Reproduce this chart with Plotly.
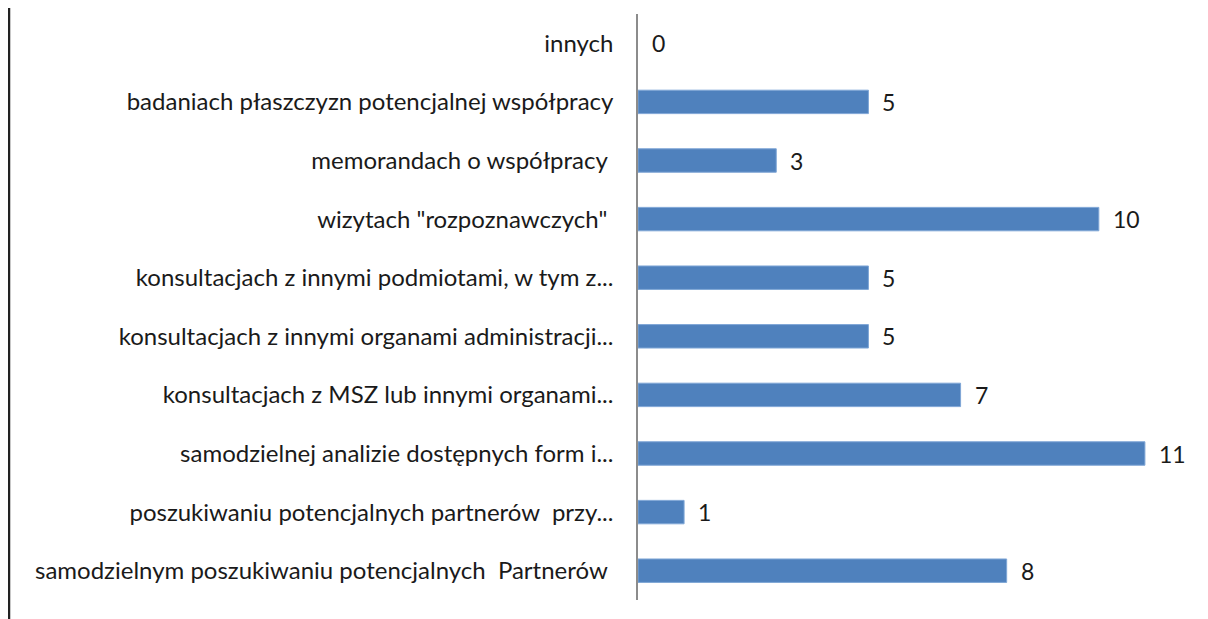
import plotly.graph_objects as go

# categories listed bottom to top, as in the chart
categories = [
    "samodzielnym poszukiwaniu potencjalnych\u00a0 Partnerów\u00a0",
    "poszukiwaniu potencjalnych partnerów\u00a0 przy...",
    "samodzielnej analizie dostępnych form i...",
    "konsultacjach z MSZ lub innymi organami...",
    "konsultacjach z innymi organami administracji...",
    "konsultacjach z innymi podmiotami, w tym z...",
    "wizytach \"rozpoznawczych\"\u00a0",
    "memorandach o współpracy\u00a0",
    "badaniach płaszczyzn potencjalnej współpracy",
    "innych",
]
values = [8, 1, 11, 7, 5, 5, 10, 3, 5, 0]

bar_color = "#4f81bd"
text_color = "#1a1a1a"
font_family = "Lato, 'Open Sans', sans-serif"

fig = go.Figure()
fig.add_trace(
    go.Bar(
        x=values,
        y=categories,
        orientation="h",
        width=0.4,
        marker=dict(
            color=bar_color,
            # no outline on empty bars, so the zero row stays blank
            line=dict(color="#7fa6d6", width=[1 if v else 0 for v in values]),
        ),
        hoverinfo="x+y",
    )
)

# value labels to the right of each bar
for cat, val in zip(categories, values):
    fig.add_annotation(
        x=val,
        y=cat,
        text=str(val),
        showarrow=False,
        xanchor="left",
        xshift=12,
        font=dict(size=23, color=text_color, family=font_family),
    )

# frame line on the left edge of the picture
fig.add_shape(
    type="line",
    xref="paper",
    yref="paper",
    x0=-629 / 553,
    x1=-629 / 553,
    y0=-0.1,
    y1=1.1,
    line=dict(color="#222222", width=2.5),
)

# the page body adds 8px, so the figure is 8px smaller on each side
fig.update_layout(
    width=1200,
    height=611,
    margin=dict(l=630, r=17, t=6, b=19),
    paper_bgcolor="white",
    plot_bgcolor="white",
    showlegend=False,
    font=dict(family=font_family, size=24, color=text_color),
)
fig.update_xaxes(
    range=[0, 12],
    showgrid=False,
    zeroline=False,
    showticklabels=False,
    showline=False,
)
fig.update_yaxes(
    showgrid=False,
    showline=True,
    linecolor="#8c8c8c",
    linewidth=1.5,
    ticks="",
    ticklabelstandoff=18,
    tickfont=dict(size=24, color=text_color, family=font_family),
)

fig.write_html("out.html")
